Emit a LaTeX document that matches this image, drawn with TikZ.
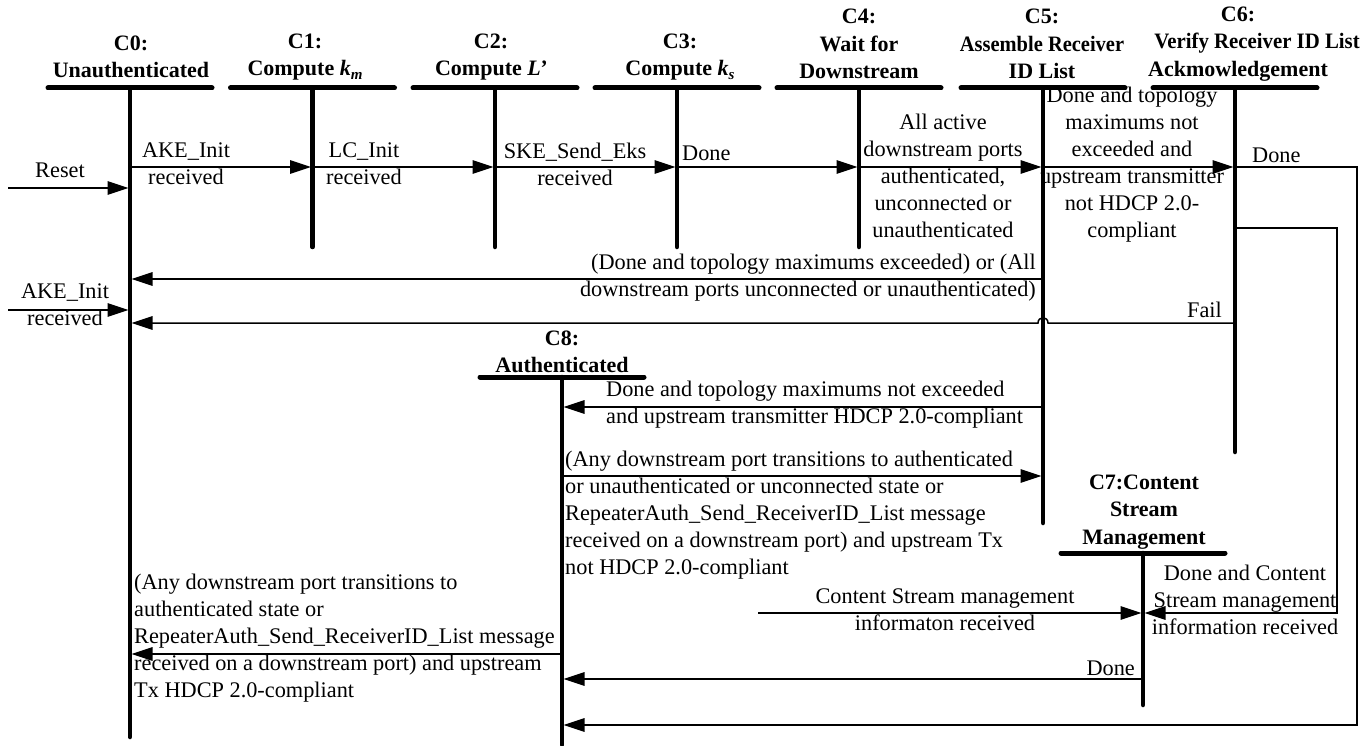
\documentclass[tikz,border=0pt]{standalone}
\usepackage{fontspec}
\setmainfont{Liberation Serif}
\usetikzlibrary{arrows.meta}
\begin{document}
\begin{tikzpicture}[x=1pt,y=-1pt,
  txt/.style={font=\fontsize{22.3}{27}\selectfont, inner sep=0pt, align=center,
    execute at begin node=\strut, execute at end node=\strut},
  hdr/.style={font=\fontsize{22}{27.5}\selectfont\bfseries, inner sep=0pt, align=center},
  life/.style={line width=4.5pt, line cap=round},
  hbar/.style={line width=5pt, line cap=round},
  wire/.style={line width=1.5pt},
  arr/.style={wire, -{Triangle[length=21pt,width=13.5pt]}, shorten >=1.5pt},
]
\useasboundingbox (0,0) rectangle (1364,746);

% tops of the state lines
\coordinate (L0) at (130,88);
\coordinate (L1) at (312.5,88);
\coordinate (L2) at (495,88);
\coordinate (L3) at (677,88);
\coordinate (L4) at (859,88);
\coordinate (L5) at (1043,88);
\coordinate (L6) at (1235,88);
\coordinate (L8) at (562,377);
\coordinate (L7) at (1143,553);
% bottoms of the state lines
\coordinate (E0) at (130,737);
\coordinate (E1) at (312.5,247);
\coordinate (E2) at (495,247);
\coordinate (E3) at (677,247);
\coordinate (E4) at (859,247);
\coordinate (E5) at (1043,523);
\coordinate (E6) at (1235,452);
\coordinate (E8) at (562,745);
\coordinate (E7) at (1143,705);

% headers
\node[hdr] (H0) at (131,57) {C0:\\Unauthenticated};
\node[hdr] (H1) at (305,57) {C1:\\Compute \textit{k}\raisebox{-4pt}{\fontsize{15}{15}\selectfont\textit{m}}};
\node[hdr] (H2) at (491,57) {C2:\\Compute \textit{L’}};
\node[hdr] (H3) at (680,57) {C3:\\Compute \textit{k}\raisebox{-4pt}{\fontsize{15}{15}\selectfont\textit{s}}};
\node[hdr] (H4) at (859,44) {C4:\\Wait for\\Downstream};
\node[hdr] (H5) at (1042,44) {C5:\\\scalebox{0.93}[1]{Assemble Receiver}\\ID List};
\node[hdr] (H6) at (1238,44) {C6:\\\hspace*{38pt}\scalebox{0.945}[1]{Verify Receiver ID List}\\Ackmowledgement};
\node[hdr] (H8) at (562,352) {C8:\\Authenticated};
\node[hdr] (H7) at (1144,512) {C7:Content\\Stream\\Management};

% header bars and state lines
\foreach \n in {0,1,2,3,4,5,6,8,7}{
  \draw[hbar] ([xshift=-82pt]L\n) -- ([xshift=82pt]L\n);
  \draw[life] (L\n) -- (E\n);
}

% rows
\coordinate (rA) at (0,167);
\coordinate (rB) at (0,228);
\coordinate (rC) at (0,279);
\coordinate (rE) at (0,323);
\coordinate (rF) at (0,407);
\coordinate (rG) at (0,476);
\coordinate (rH) at (0,613);
\coordinate (rI) at (0,654);
\coordinate (rJ) at (0,679);
\coordinate (rK) at (0,725);
\coordinate (resetS) at (8,188);
\coordinate (akeS) at (8,310);
\coordinate (csS) at (758,613);
\coordinate (outerX) at (1357,0);
\coordinate (innerX) at (1337,0);
\coordinate (hopR) at (1048,323);
\coordinate (hopL) at (1038,323);

% connectors
\draw[arr] (resetS) -- (L0 |- resetS);
\draw[arr] (akeS) -- (L0 |- akeS);
\draw[arr] (L0 |- rA) -- (L1 |- rA);
\draw[arr] (L1 |- rA) -- (L2 |- rA);
\draw[arr] (L2 |- rA) -- (L3 |- rA);
\draw[arr] (L3 |- rA) -- (L4 |- rA);
\draw[arr] (L4 |- rA) -- (L5 |- rA);
\draw[arr] (L5 |- rA) -- (L6 |- rA);
\draw[arr] (L6 |- rA) -- (outerX |- rA) -- (outerX |- rK) -- (L8 |- rK);
\draw[arr] (L6 |- rB) -- (innerX |- rB) -- (innerX |- rH) -- (L7 |- rH);
\draw[arr] (L5 |- rC) -- (L0 |- rC);
\draw[arr] (L6 |- rE) -- (hopR) .. controls +(0,-7) and +(0,-7) .. (hopL) -- (L0 |- rE);
\draw[arr] (L5 |- rF) -- (L8 |- rF);
\draw[arr] (L8 |- rG) -- (L5 |- rG);
\draw[arr] (csS) -- (L7 |- csS);
\draw[arr] (L8 |- rI) -- (L0 |- rI);
\draw[arr] (L7 |- rJ) -- (L8 |- rJ);

% labels
\node[txt] (tReset) at (60,172) {Reset};
\node[txt] (tAke1) at (186,168) {AKE\_Init\\received};
\node[txt] (tLc) at (364,168) {LC\_Init\\received};
\node[txt] (tSke) at (575,168) {SKE\_Send\_Eks\\received};
\node[txt,anchor=west] (tDone3) at (682,155) {Done};
\node[txt] (tAll) at (943,180) {All active\\downstream ports\\authenticated,\\unconnected or\\unauthenticated};
\node[txt] (tTopo) at (1132,166) {Done and topology\\maximums not\\exceeded and\\upstream transmitter\\not HDCP 2.0-\\compliant};
\node[txt,anchor=west] (tDone6) at (1252,157) {Done};
\node[txt,anchor=east,align=right] (tExc) at (1036,279) {(Done and topology maximums exceeded) or (All\\downstream ports unconnected or unauthenticated)};
\node[txt,anchor=east] (tFail) at (1222,312) {Fail};
\node[txt] (tAke2) at (65,309) {AKE\_Init\\received};
\node[txt,anchor=west,align=left] (tNotExc) at (606,406) {Done and topology maximums not exceeded\\and upstream transmitter HDCP 2.0-compliant};
\node[txt,anchor=west,align=left] (tAny1) at (565,517) {(Any downstream port transitions to authenticated\\or unauthenticated or unconnected state or\\RepeaterAuth\_Send\_ReceiverID\_List message\\received on a downstream port) and upstream Tx\\not HDCP 2.0-compliant};
\node[txt,anchor=west,align=left] (tAny2) at (134,640) {(Any downstream port transitions to\\authenticated state or\\RepeaterAuth\_Send\_ReceiverID\_List message\\received on a downstream port) and upstream\\Tx HDCP 2.0-compliant};
\node[txt] (tCsm) at (945,614) {Content Stream management\\informaton received};
\node[txt] (tDoneCsm) at (1245,604) {Done and Content\\Stream management\\information received};
\node[txt,anchor=east] (tDone7) at (1135,670) {Done};
\end{tikzpicture}
\end{document}
